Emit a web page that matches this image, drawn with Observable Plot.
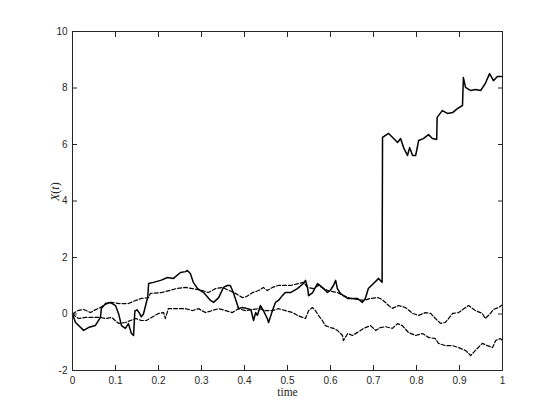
<!DOCTYPE html>
<html>
<head>
<meta charset="utf-8">
<script src="https://cdn.jsdelivr.net/npm/d3@7"></script>
<script src="https://cdn.jsdelivr.net/npm/@observablehq/plot@0.6"></script>
<style>
  html, body { margin: 0; padding: 0; background: #fff; }
  #chart svg { display: block; }
</style>
</head>
<body>
<div id="chart"></div>
<script>
// Solid path with jumps
const tA = [0,0.007,0.026,0.037,0.053,0.065,0.067,0.077,0.088,0.100,0.107,0.114,0.123,0.130,0.137,0.142,0.145,0.150,0.155,0.160,0.165,0.170,0.175,0.177,0.188,0.205,0.221,0.235,0.251,0.263,0.267,0.274,0.281,0.291,0.305,0.321,0.328,0.340,0.351,0.360,0.367,0.374,0.384,0.386,0.395,0.407,0.415,0.421,0.426,0.430,0.437,0.444,0.453,0.456,0.465,0.472,0.479,0.488,0.495,0.507,0.523,0.537,0.542,0.547,0.549,0.558,0.570,0.581,0.593,0.600,0.607,0.612,0.616,0.623,0.630,0.640,0.651,0.663,0.674,0.681,0.688,0.700,0.712,0.716,0.720,0.721,0.735,0.747,0.756,0.763,0.770,0.779,0.784,0.791,0.798,0.805,0.816,0.828,0.837,0.847,0.848,0.860,0.872,0.884,0.895,0.907,0.909,0.914,0.926,0.937,0.949,0.960,0.970,0.979,0.988,1.0];
const vA = [0,-0.30,-0.58,-0.48,-0.41,-0.12,0.19,0.37,0.41,0.30,0.02,-0.41,-0.51,-0.34,-0.69,-0.76,0.10,0.15,0.05,-0.10,0.0,0.30,0.60,1.08,1.12,1.19,1.29,1.26,1.47,1.50,1.54,1.43,1.12,0.90,0.76,0.48,0.41,0.58,0.94,1.01,1.01,0.76,0.30,0.19,0.23,0.19,0.15,-0.23,0.05,-0.05,0.30,0.12,-0.16,-0.30,0.12,0.41,0.48,0.65,0.76,0.76,0.90,1.08,1.19,0.90,0.65,0.75,1.08,0.94,0.76,0.85,1.01,1.19,0.90,0.73,0.65,0.55,0.55,0.55,0.41,0.55,0.90,1.08,1.26,1.19,1.12,6.25,6.39,6.21,6.07,6.21,5.89,5.61,5.89,5.61,5.61,6.14,6.21,6.35,6.21,6.18,6.96,7.20,7.10,7.13,7.27,7.38,8.37,8.02,7.91,7.95,7.91,8.16,8.51,8.26,8.41,8.41];

// Upper dashed path
const tB = [0,0.012,0.026,0.042,0.049,0.065,0.077,0.091,0.110,0.130,0.147,0.160,0.177,0.181,0.207,0.242,0.263,0.279,0.302,0.316,0.333,0.349,0.379,0.395,0.405,0.419,0.433,0.444,0.453,0.465,0.479,0.495,0.507,0.526,0.537,0.547,0.560,0.572,0.593,0.616,0.630,0.647,0.663,0.677,0.693,0.709,0.716,0.728,0.735,0.744,0.758,0.774,0.791,0.805,0.821,0.833,0.844,0.856,0.867,0.884,0.898,0.914,0.921,0.937,0.953,0.960,0.972,0.979,0.991,1.0];
const vB = [0,0.12,0.16,0.05,0.12,0.23,0.35,0.41,0.37,0.37,0.48,0.55,0.58,0.73,0.76,0.90,0.94,0.90,0.83,0.76,0.90,0.94,0.73,0.58,0.62,0.76,0.83,0.94,0.83,0.94,1.01,1.01,1.01,1.08,1.12,0.94,0.90,1.01,0.83,0.76,0.65,0.55,0.52,0.48,0.55,0.58,0.55,0.41,0.30,0.20,0.30,0.23,0.02,-0.05,0.05,0.02,-0.16,-0.33,-0.30,0.02,0.05,0.23,0.30,0.12,0.02,-0.16,0.02,0.16,0.23,0.33];

// Lower dashed path
const tC = [0,0.014,0.030,0.049,0.065,0.077,0.091,0.107,0.123,0.147,0.160,0.172,0.184,0.200,0.212,0.216,0.223,0.242,0.263,0.279,0.293,0.309,0.340,0.356,0.372,0.386,0.402,0.433,0.449,0.465,0.479,0.495,0.512,0.523,0.535,0.542,0.549,0.558,0.565,0.572,0.581,0.588,0.600,0.607,0.616,0.628,0.630,0.640,0.651,0.663,0.677,0.693,0.705,0.716,0.728,0.744,0.756,0.767,0.781,0.798,0.814,0.828,0.844,0.851,0.867,0.884,0.898,0.914,0.926,0.937,0.953,0.965,0.977,0.984,0.995,1.0];
const vC = [0,-0.16,-0.12,-0.12,-0.12,-0.16,-0.12,-0.33,-0.30,-0.16,-0.23,-0.23,-0.12,0.02,0.05,-0.16,0.19,0.19,0.19,0.12,0.19,0.05,0.19,0.12,0.05,0.19,0.12,0.19,0.12,0.12,0.19,0.12,0.05,-0.05,-0.12,-0.16,0.12,0.23,0.12,-0.05,-0.23,-0.41,-0.48,-0.51,-0.58,-0.76,-0.94,-0.69,-0.76,-0.65,-0.51,-0.41,-0.58,-0.48,-0.45,-0.51,-0.34,-0.41,-0.65,-0.76,-0.69,-0.83,-0.87,-1.04,-1.12,-1.12,-1.19,-1.29,-1.47,-1.29,-1.04,-1.12,-1.19,-0.94,-0.87,-0.94];

const xTicks = [0,0.1,0.2,0.3,0.4,0.5,0.6,0.7,0.8,0.9,1];
const yTicks = [-2,0,2,4,6,8,10];
const xLabel = "time";
const yLabel = "X(t)";

const toRows = (ts, vs) => ts.map((t, i) => ({t, v: vs[i]}));
const rowsA = toRows(tA, vA);
const rowsB = toRows(tB, vB);
const rowsC = toRows(tC, vC);

const axisColor = "#262626";
const sans = "'Liberation Sans', Arial, Helvetica, sans-serif";
const serif = "'Liberation Serif', 'Times New Roman', serif";
const fmt = d => String(d);

const chart = Plot.plot({
  width: 555,
  height: 416,
  marginLeft: 72,
  marginRight: 53,
  marginTop: 31,
  marginBottom: 46,
  style: {fontFamily: sans, fontSize: "10px", color: axisColor, background: "#fff"},
  x: {domain: [0, 1]},
  y: {domain: [-2, 10]},
  marks: [
    Plot.line(rowsC, {x: "t", y: "v", stroke: "#000", strokeWidth: 1.2, strokeDasharray: "4,2"}),
    Plot.line(rowsB, {x: "t", y: "v", stroke: "#000", strokeWidth: 1.2, strokeDasharray: "4,2"}),
    Plot.line(rowsA, {x: "t", y: "v", stroke: "#000", strokeWidth: 1.5}),
    Plot.axisX(xTicks, {anchor: "bottom", tickSize: -5, tickPadding: 11, tickFormat: fmt, label: null, stroke: axisColor, fill: axisColor, fontFamily: sans, fontSize: 10}),
    Plot.axisX(xTicks, {anchor: "top", tickSize: -5, tickFormat: () => "", label: null, stroke: axisColor}),
    Plot.axisY(yTicks, {anchor: "left", tickSize: -5, tickPadding: 10, tickFormat: fmt, label: null, stroke: axisColor, fill: axisColor, fontFamily: sans, fontSize: 10}),
    Plot.axisY(yTicks, {anchor: "right", tickSize: -5, tickFormat: () => "", label: null, stroke: axisColor}),
    Plot.frame({stroke: axisColor}),
    Plot.text([xLabel], {text: d => d, frameAnchor: "bottom", dy: 25, fontFamily: serif, fontSize: 11.5, fill: axisColor}),
    Plot.text([yLabel], {text: d => d, frameAnchor: "left", dx: -17, rotate: -90, fontFamily: serif, fontSize: 12, fill: axisColor})
  ]
});
document.getElementById("chart").appendChild(chart);

// Render the y label as LaTeX-like: italic X and t, upright parentheses
d3.select(chart).selectAll("text").filter(function() { return this.textContent === yLabel; }).each(function() {
  const sel = d3.select(this);
  sel.text(null);
  sel.append("tspan").attr("font-style", "italic").text("X");
  sel.append("tspan").text("(");
  sel.append("tspan").attr("font-style", "italic").text("t");
  sel.append("tspan").text(")");
});
</script>
</body>
</html>
